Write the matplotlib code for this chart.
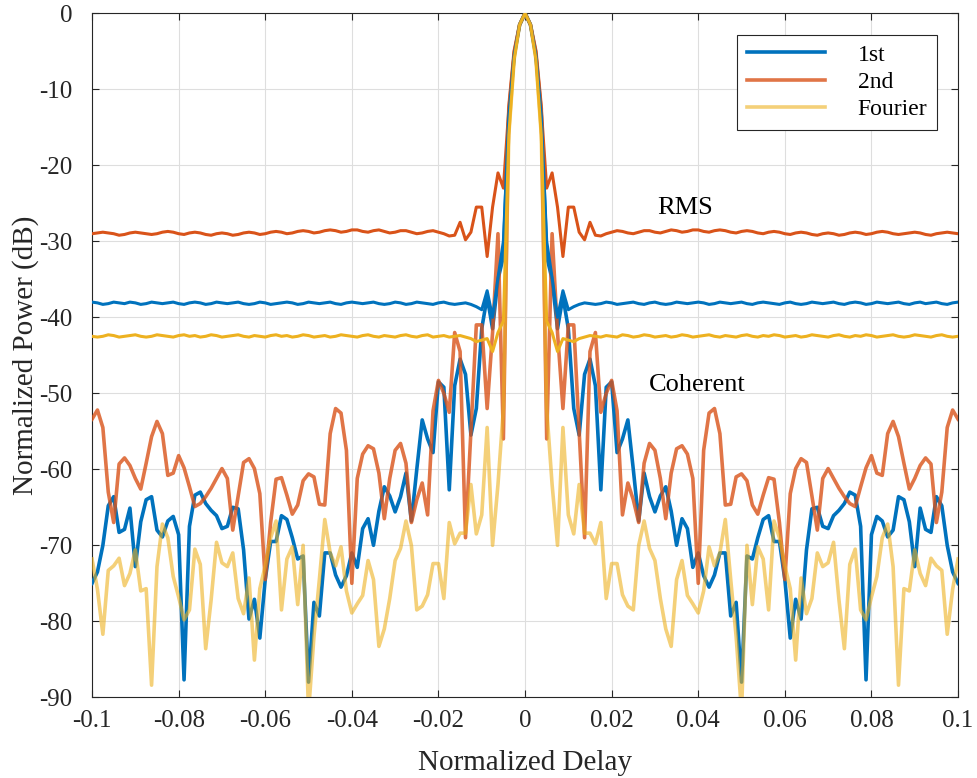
import matplotlib
matplotlib.use("Agg")
import matplotlib.pyplot as plt
import numpy as np

plt.rcParams['font.family'] = ['Liberation Serif', 'DejaVu Serif']
plt.rcParams['axes.unicode_minus'] = False

# Sample positions of the right half (the curves are symmetric about zero delay)
delay_half = np.arange(81) * 0.00125

# Coherent results, 0 .. 0.1
coh_1st = [0, -1.5, -5.5, -13.5, -32, -35, -41.5, -37.3, -41.5, -52,
           -55.5, -47.5, -45.5, -49, -62.7, -49.2, -48.5, -57.8, -56, -53.5,
           -60, -66.8, -60.5, -63.6, -65.6, -63.5, -62.3, -65.5, -70, -66.5,
           -67.8, -72.9, -71, -74, -75.5, -73.9, -71, -71, -79.3, -77.5,
           -88, -71.4, -71.8, -69, -66.6, -66.1, -69.5, -69.5, -74.5, -82.2,
           -77.1, -79.7, -70.6, -65.2, -65, -67.5, -67.8, -66.1, -65.4, -64.5,
           -63, -63.4, -67.5, -87.7, -68.6, -66.2, -66.8, -68.9, -68, -63.6,
           -64, -66.9, -72.8, -65.1, -67.9, -68.3, -63.6, -64.8, -70, -73.5,
           -75]
coh_2nd = [0, -1.5, -5, -12.5, -56, -29, -42, -52, -41, -41,
           -55, -69, -44.5, -42, -52.5, -50, -48.3, -52.3, -66, -61.8,
           -64, -67, -59.2, -56.6, -57.5, -61.2, -66.5, -60.5, -57.3, -56.9,
           -58, -61.2, -75, -57.5, -52.6, -52, -55.3, -64.7, -64.6, -61,
           -60.6, -61.5, -64.7, -65.9, -63.4, -61.1, -61.3, -67, -74.5, -63.2,
           -59.9, -58.6, -59.1, -63.5, -68, -61.2, -59.9, -61.2, -62.5, -63.6,
           -64.5, -64.9, -62.3, -59.8, -58.2, -60.5, -60.8, -55.3, -53.7, -55.7,
           -59.2, -62.6, -61.2, -59.5, -58.5, -59.3, -67, -63, -54.5, -52.2,
           -53.4]
coh_fourier = [0, -1.5, -6, -16, -52, -62, -70, -54.5, -66, -68.5,
               -62, -68.4, -68.4, -69.8, -67, -77, -72.4, -72.4, -76.5, -78,
               -78.5, -70, -66.8, -70.4, -72, -77, -81, -83.3, -74.5, -72,
               -76.6, -77.7, -78.9, -76, -70.2, -72.7, -71, -66.6, -74.5, -82,
               -92, -70, -77.8, -70.2, -71.8, -78.5, -66.8, -69, -72.7, -75.7,
               -85.1, -74.3, -79, -77, -71, -72.8, -72.3, -69.6, -77.2, -83.6,
               -72.5, -70.5, -78.5, -79.8, -76.8, -74.1, -69, -67.2, -72.8, -88.4,
               -75.7, -76, -70.6, -73.7, -75.3, -71.7, -72.7, -73.3, -81.7, -75.8,
               -71.8]

# RMS results, 0 .. 0.1
rms_1st = [0, -1.5, -5.5, -13.5, -30, -34.8, -40, -36.5, -39, -38.6,
           -38.3, -38.1, -38.2, -38.3, -38.2, -38.0, -38.1, -38.3, -38.2, -38.1,
           -38.0, -38.2, -38.3, -38.1, -38.0, -38.2, -38.3, -38.2, -38.0, -38.1,
           -38.2, -38.1, -38.0, -38.1, -38.3, -38.2, -38.0, -38.1, -38.2, -38.1,
           -38.0, -38.2, -38.3, -38.1, -38.0, -38.1, -38.2, -38.3, -38.1, -38.0,
           -38.2, -38.3, -38.2, -38.0, -38.1, -38.2, -38.1, -38.0, -38.2, -38.3,
           -38.1, -38.0, -38.1, -38.3, -38.2, -38.0, -38.1, -38.2, -38.1, -38.0,
           -38.2, -38.3, -38.1, -38.0, -38.2, -38.1, -38.0, -38.2, -38.3, -38.1,
           -38.0]
rms_2nd = [0, -1.5, -5, -12.5, -23, -21, -25.5, -32, -25.5, -25.5,
           -28.8, -29.8, -27.5, -29.2, -29.3, -29.0, -28.8, -28.6, -28.7, -28.9,
           -29.0, -28.8, -28.6, -28.6, -28.8, -28.9, -28.7, -28.5, -28.6, -28.8,
           -28.7, -28.5, -28.5, -28.7, -28.8, -28.6, -28.5, -28.6, -28.8, -28.9,
           -28.7, -28.6, -28.7, -28.9, -29.0, -28.8, -28.7, -28.8, -29.0, -29.1,
           -28.9, -28.8, -28.9, -29.1, -29.2, -29.0, -28.9, -29.0, -29.2, -29.1,
           -28.9, -28.8, -28.9, -29.1, -29.0, -28.8, -28.7, -28.8, -29.0, -29.1,
           -29.0, -28.9, -28.8, -28.9, -29.1, -29.2, -29.0, -28.9, -28.8, -28.9,
           -29.0]
rms_fourier = [0, -1.5, -6, -16, -40.5, -42, -44.5, -42.8, -43, -43.2,
               -42.8, -42.6, -42.4, -42.5, -42.6, -42.4, -42.5, -42.6, -42.3, -42.4,
               -42.6, -42.5, -42.3, -42.4, -42.6, -42.5, -42.4, -42.6, -42.5, -42.3,
               -42.4, -42.6, -42.5, -42.4, -42.3, -42.5, -42.6, -42.4, -42.5, -42.6,
               -42.4, -42.3, -42.5, -42.6, -42.4, -42.5, -42.3, -42.4, -42.6, -42.5,
               -42.4, -42.6, -42.5, -42.3, -42.4, -42.5, -42.6, -42.4, -42.3, -42.5,
               -42.6, -42.4, -42.5, -42.3, -42.4, -42.6, -42.5, -42.4, -42.3, -42.5,
               -42.6, -42.5, -42.3, -42.4, -42.5, -42.6, -42.4, -42.3, -42.5, -42.6,
               -42.5]

x_ticks = [-0.1, -0.08, -0.06, -0.04, -0.02, 0, 0.02, 0.04, 0.06, 0.08, 0.1]
x_labels = ["-0.1", "-0.08", "-0.06", "-0.04", "-0.02", "0", "0.02", "0.04", "0.06", "0.08", "0.1"]
y_ticks = [-90, -80, -70, -60, -50, -40, -30, -20, -10, 0]


def mirror(v):
    v = np.asarray(v, dtype=float)
    return np.concatenate([v[:0:-1], v])


delay = np.concatenate([-delay_half[:0:-1], delay_half])

fig = plt.figure(figsize=(9.77, 7.78), dpi=100)
ax = fig.add_axes([0.0942, 0.1037, 0.8864, 0.8792])

# Coherent curves (lighter)
l1, = ax.plot(delay, mirror(coh_1st), color="#0072BD", lw=2.6, label="1st", zorder=3)
l2, = ax.plot(delay, mirror(coh_2nd), color="#D95319", alpha=0.8, lw=2.6, label="2nd", zorder=3)
l3, = ax.plot(delay, mirror(coh_fourier), color="#EDB120", alpha=0.6, lw=2.6, label="Fourier", zorder=3)

# RMS curves
ax.plot(delay, mirror(rms_2nd), color="#D95319", lw=2.2, zorder=4)
ax.plot(delay, mirror(rms_1st), color="#0072BD", lw=2.2, zorder=4)
ax.plot(delay, mirror(rms_fourier), color="#EDB120", lw=2.2, zorder=4)

ax.text(0.0369, -25.6, "RMS", fontsize=19, ha="center", va="center")
ax.text(0.0397, -48.9, "Coherent", fontsize=19, ha="center", va="center")

ax.set_xlim(-0.1, 0.1)
ax.set_ylim(-90, 0)
ax.set_xticks(x_ticks)
ax.set_xticklabels(x_labels)
ax.set_yticks(y_ticks)
ax.set_yticklabels([str(v) for v in y_ticks])
ax.tick_params(direction="in", top=True, right=True, length=5, width=0.8,
               labelsize=18, colors="#262626")
ax.tick_params(axis="x", pad=9)
ax.tick_params(axis="y", pad=14)
for s in ax.spines.values():
    s.set_color("#262626")
    s.set_linewidth(0.8)
ax.grid(True, color="#dedede", lw=0.8)
ax.set_axisbelow(True)

ax.set_xlabel("Normalized Delay", fontsize=21, color="#262626", labelpad=13)
ax.set_ylabel("Normalized Power (dB)", fontsize=21, color="#262626", labelpad=0)

leg = ax.legend(handles=[l1, l2, l3], loc="upper right", fontsize=17,
                handlelength=3.3, handletextpad=1.4, labelspacing=0.25,
                borderpad=0.4, borderaxespad=0.9, fancybox=False,
                edgecolor="#262626", framealpha=1)
leg.get_frame().set_linewidth(0.8)
for h in leg.legend_handles:
    h.set_linewidth(2.6)

fig.savefig("out.png", dpi=100)
